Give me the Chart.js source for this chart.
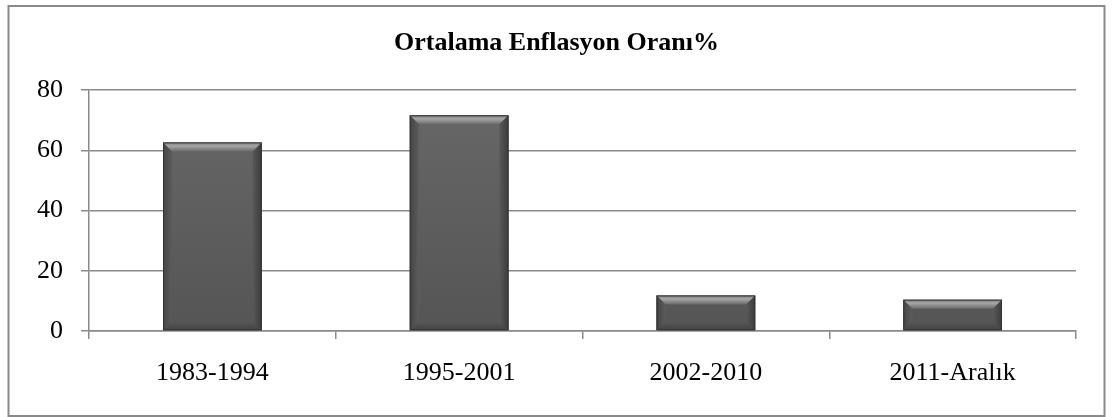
<!DOCTYPE html>
<html>
<head>
<meta charset="utf-8">
<script src="https://cdn.jsdelivr.net/npm/chart.js@4.4.1/dist/chart.umd.min.js"></script>
<style>
  html, body { margin: 0; padding: 0; background: #fff; }
  #wrap { width: 1113px; height: 417px; position: relative; }
</style>
</head>
<body>
<div id="wrap"><canvas id="chart" width="1113" height="417"></canvas></div>
<script>
// ================= Data =================
const chartTitle = 'Ortalama Enflasyon Oranı%';
const periods = ['1983-1994', '1995-2001', '2002-2010', '2011-Aralık'];
const inflation = [62.6, 71.6, 11.8, 10.4];
const yTicks = [0, 20, 40, 60, 80];

const gridColor = '#8a8a8a';
const serif = "'Liberation Serif', 'Times New Roman', serif";

// ================= Plugins =================
// outer frame + title
const framePlugin = {
    id: 'frame',
    afterDraw(chart) {
        const ctx = chart.ctx;
        ctx.save();
        ctx.strokeStyle = '#8a8a8a';
        ctx.lineWidth = 2;
        ctx.strokeRect(8.5, 6, 1096, 410);
        ctx.fillStyle = '#000';
        ctx.font = 'bold 26px ' + serif;
        ctx.textAlign = 'center';
        ctx.textBaseline = 'middle';
        ctx.fillText(chartTitle, chart.width / 2, 43);
        ctx.restore();
    }
};

// bevel look on each bar, using the bar elements from the library
const bevelPlugin = {
    id: 'bevel',
    afterDatasetsDraw(chart) {
        const ctx = chart.ctx;
        const meta = chart.getDatasetMeta(0);
        meta.data.forEach(bar => {
            const p = bar.getProps(['x', 'y', 'base', 'width'], true);
            const l = p.x - p.width / 2, r = p.x + p.width / 2;
            const t = p.y, b = p.base;
            const h = b - t;
            const bv = Math.min(9, h / 2);
            const sv = Math.min(9, p.width / 2);
            ctx.save();
            // top band
            let g = ctx.createLinearGradient(0, t, 0, t + bv);
            g.addColorStop(0, '#7c7c7c');
            g.addColorStop(0.4, '#a6a6a6');
            g.addColorStop(1, '#6a6a6a');
            ctx.fillStyle = g;
            ctx.beginPath();
            ctx.moveTo(l, t); ctx.lineTo(r, t); ctx.lineTo(r - sv, t + bv); ctx.lineTo(l + sv, t + bv);
            ctx.closePath(); ctx.fill();
            // bottom band
            g = ctx.createLinearGradient(0, b - bv, 0, b);
            g.addColorStop(0, '#585858');
            g.addColorStop(1, '#424242');
            ctx.fillStyle = g;
            ctx.beginPath();
            ctx.moveTo(l, b); ctx.lineTo(r, b); ctx.lineTo(r - sv, b - bv); ctx.lineTo(l + sv, b - bv);
            ctx.closePath(); ctx.fill();
            // sides
            g = ctx.createLinearGradient(l, 0, l + sv, 0);
            g.addColorStop(0, '#444');
            g.addColorStop(1, '#5c5c5c');
            ctx.fillStyle = g;
            ctx.beginPath();
            ctx.moveTo(l, t); ctx.lineTo(l + sv, t + bv); ctx.lineTo(l + sv, b - bv); ctx.lineTo(l, b);
            ctx.closePath(); ctx.fill();
            g = ctx.createLinearGradient(r, 0, r - sv, 0);
            g.addColorStop(0, '#3c3c3c');
            g.addColorStop(1, '#585858');
            ctx.fillStyle = g;
            ctx.beginPath();
            ctx.moveTo(r, t); ctx.lineTo(r - sv, t + bv); ctx.lineTo(r - sv, b - bv); ctx.lineTo(r, b);
            ctx.closePath(); ctx.fill();
            ctx.strokeStyle = '#333';
            ctx.lineWidth = 1;
            ctx.strokeRect(l + 0.5, t + 0.5, p.width - 1, h - 1);
            ctx.restore();
        });
    }
};

function barFill(context) {
    const area = context.chart.chartArea;
    if (!area) return '#5a5a5a';
    const g = context.chart.ctx.createLinearGradient(0, area.top, 0, area.bottom);
    g.addColorStop(0, '#686868');
    g.addColorStop(1, '#555555');
    return g;
}

// ================= Chart =================
new Chart(document.getElementById('chart'), {
    type: 'bar',
    data: {
        labels: periods,
        datasets: [{
            data: inflation,
            backgroundColor: barFill,
            borderWidth: 0,
            categoryPercentage: 1,
            barPercentage: 0.4
        }]
    },
    options: {
        responsive: false,
        animation: false,
        layout: { padding: { top: 90, right: 37, left: 0, bottom: 0 } },
        plugins: {
            legend: { display: false },
            title: { display: false },
            tooltip: { enabled: false }
        },
        scales: {
            x: {
                afterFit: s => { s.height = 86; },
                grid: { offset: true, drawOnChartArea: false, color: gridColor, lineWidth: 1.5, tickLength: 8 },
                border: { color: gridColor, width: 1.5 },
                ticks: { color: '#000', font: { family: serif, size: 26 }, padding: 19 }
            },
            y: {
                min: 0,
                max: 80,
                afterFit: s => { s.width = 89; },
                afterBuildTicks: s => { s.ticks = yTicks.map(v => ({ value: v })); },
                grid: { color: gridColor, lineWidth: 1.5, tickLength: 8 },
                border: { color: gridColor, width: 1.5 },
                ticks: { color: '#000', font: { family: serif, size: 26 }, padding: 18 }
            }
        }
    },
    plugins: [framePlugin, bevelPlugin]
});
</script>
</body>
</html>
